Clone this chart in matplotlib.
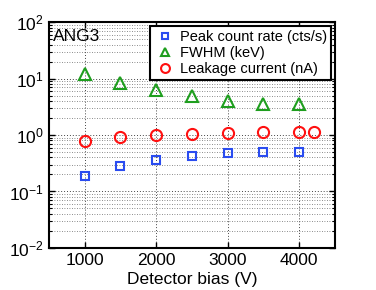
import numpy as np
import matplotlib.pyplot as plt
from matplotlib.ticker import LogLocator, FixedLocator

plt.rcParams['font.family'] = ['Liberation Sans', 'DejaVu Sans']
plt.rcParams['mathtext.fontset'] = 'custom'
plt.rcParams['mathtext.rm'] = 'Liberation Sans'

# data
bias = [1000, 1500, 2000, 2500, 3000, 3500, 4000]
peak_rate = [0.19, 0.28, 0.355, 0.42, 0.48, 0.49, 0.49]
fwhm = [12.0, 8.3, 6.3, 5.0, 4.0, 3.6, 3.6]
bias_leak = [1000, 1500, 2000, 2500, 3000, 3500, 4000, 4200]
leakage = [0.78, 0.91, 0.99, 1.03, 1.07, 1.12, 1.15, 1.15]

fig = plt.figure(figsize=(3.76, 2.9), dpi=100)
ax = fig.add_axes([0.130, 0.145, 0.761, 0.779])

ax.semilogy(bias, peak_rate, 's', ms=6, mfc='none', mec='#2a4cf0', mew=1.5,
            label='Peak count rate (cts/s)')
ax.semilogy(bias, fwhm, '^', ms=8, mfc='none', mec='#1e9e1e', mew=1.5,
            label='FWHM (keV)')
ax.semilogy(bias_leak, leakage, 'o', ms=8, mfc='none', mec='#ff1010', mew=1.5,
            label='Leakage current (nA)')

ax.set_xlim(500, 4500)
ax.set_ylim(1e-2, 1e2)
ax.xaxis.set_major_locator(FixedLocator([1000, 2000, 3000, 4000]))
ax.yaxis.set_major_locator(LogLocator(base=10, numticks=10))
ax.yaxis.set_minor_locator(LogLocator(base=10, subs=np.arange(2, 10), numticks=10))

ax.grid(True, which='major', axis='both', ls=(0, (1, 2)), color='#444444', lw=0.7)
ax.grid(True, which='minor', axis='y', ls=(0, (1, 2)), color='#666666', lw=0.6)
ax.tick_params(which='both', direction='in', top=True, right=True, labelsize=12.5)
ax.tick_params(which='major', length=4, width=1)
ax.tick_params(which='minor', length=2, width=0.8)
for s in ax.spines.values():
    s.set_linewidth(1.5)

ax.set_xlabel('Detector bias (V)', fontsize=12.5, labelpad=3)
ax.text(0.015, 0.97, 'ANG3', transform=ax.transAxes, fontsize=12.5,
        va='top', ha='left')

leg = ax.legend(loc='upper right', fontsize=10.5, frameon=True, fancybox=False,
                edgecolor='black', framealpha=1, borderpad=0.25,
                handletextpad=0.3, labelspacing=0.15, borderaxespad=0.3,
                handlelength=1.5, markerscale=0.8)
leg.get_frame().set_linewidth(1.5)

fig.savefig('out.png', dpi=100)
